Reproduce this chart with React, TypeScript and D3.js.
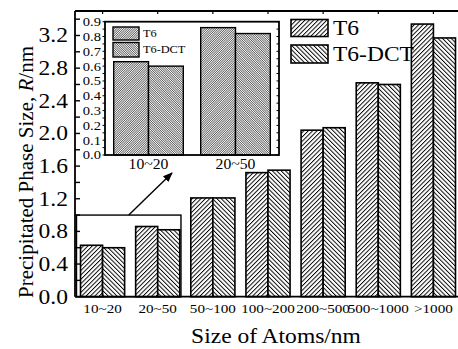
import React from 'react';
import * as d3 from 'd3';

const categories = ['10~20', '20~50', '50~100', '100~200', '200~500', '500~1000', '>1000'];
const t6 = [0.63, 0.86, 1.21, 1.52, 2.04, 2.62, 3.34];
const dct = [0.60, 0.82, 1.21, 1.55, 2.07, 2.60, 3.17];
const yTicks = [0, 0.4, 0.8, 1.2, 1.6, 2.0, 2.4, 2.8, 3.2];
const insetTicks = [0, 0.1, 0.2, 0.3, 0.4, 0.5, 0.6, 0.7, 0.8, 0.9];
const insetCats = categories.slice(0, 2);

const FONT = "'Liberation Serif'";

export default function App() {
  const W = 458, H = 349;
  const left = 75, right = 461, top = 11, bottom = 296.7;

  const x = d3.scaleBand().domain(categories).range([left, right]).paddingInner(0.2).paddingOuter(0.1);
  const y = d3.scaleLinear().domain([0, 3.5]).range([bottom, top]);
  const bw = x.bandwidth() / 2;
  const minor = d3.range(0, 3.41, 0.2);

  // inset
  const iL = 105, iR = 279, iT = 21.7, iB = 155;
  const ix = d3.scaleBand().domain(insetCats).range([iL, iR]).paddingInner(0.2).paddingOuter(0.1);
  const iy = d3.scaleLinear().domain([0, 0.9]).range([iB, iT]);
  const ibw = ix.bandwidth() / 2;
  const iMinor = d3.range(0, 0.91, 0.05);

  const zoomX0 = (x('10~20') as number) - 4;
  const zoomX1 = (x('20~50') as number) + x.bandwidth() + 1.2;

  // horizontal text in the reference is a little wider than the font gives
  const wide = (cx: number) => `translate(${cx},0) scale(1.12,1) translate(${-cx},0)`;

  return (
    <svg width={W} height={H} style={{ position: 'absolute', left: 0, top: 0, fontFamily: FONT }}>
      <defs>
        <pattern id="hT6" patternUnits="userSpaceOnUse" width="3.1" height="3.1" patternTransform="rotate(45)">
          <rect width="3.1" height="3.1" fill="#fff" />
          <line x1="0" y1="0" x2="0" y2="3.1" stroke="#000" strokeWidth="1.9" />
        </pattern>
        <pattern id="hDCT" patternUnits="userSpaceOnUse" width="3.1" height="3.1" patternTransform="rotate(-45)">
          <rect width="3.1" height="3.1" fill="#fff" />
          <line x1="0" y1="0" x2="0" y2="3.1" stroke="#000" strokeWidth="1.9" />
        </pattern>
        <pattern id="iT6" patternUnits="userSpaceOnUse" width="1.6" height="1.6" patternTransform="rotate(45)">
          <rect width="1.6" height="1.6" fill="#fff" />
          <line x1="0" y1="0" x2="0" y2="1.6" stroke="#222" strokeWidth="1.2" />
        </pattern>
        <pattern id="iDCT" patternUnits="userSpaceOnUse" width="1.6" height="1.6" patternTransform="rotate(-45)">
          <rect width="1.6" height="1.6" fill="#fff" />
          <line x1="0" y1="0" x2="0" y2="1.6" stroke="#222" strokeWidth="1.2" />
        </pattern>
        <marker id="arr" viewBox="0 0 10 10" refX="9" refY="5" markerWidth="7" markerHeight="7" orient="auto">
          <path d="M0,1 L10,5 L0,9 Z" fill="#000" />
        </marker>
      </defs>
      <rect width={W} height={H} fill="#fff" />

      {/* main bars */}
      {categories.map((c, i) => (
        <g key={c}>
          <rect x={x(c)} y={y(t6[i])} width={bw} height={bottom - y(t6[i])} fill="url(#hT6)" stroke="#000" strokeWidth={1.6} />
          <rect x={(x(c) as number) + bw} y={y(dct[i])} width={bw} height={bottom - y(dct[i])} fill="url(#hDCT)" stroke="#000" strokeWidth={1.6} />
        </g>
      ))}

      {/* main axes frame */}
      <line x1={left} x2={left} y1={top} y2={bottom} stroke="#000" strokeWidth={1.8} />
      <line x1={left} x2={right} y1={bottom} y2={bottom} stroke="#000" strokeWidth={1.8} />
      <line x1={left} x2={right} y1={top} y2={top} stroke="#000" strokeWidth={1.8} />
      {minor.map(v => (
        <line key={v} x1={left} x2={left + 5} y1={y(v)} y2={y(v)} stroke="#000" strokeWidth={1.4} />
      ))}
      {categories.map(c => {
        const cx = (x(c) as number) + x.bandwidth() / 2;
        return (
          <g key={c}>
            <line x1={cx} x2={cx} y1={bottom} y2={bottom - 3} stroke="#000" strokeWidth={1.2} />
            <line x1={cx} x2={cx} y1={top} y2={top + 3} stroke="#000" strokeWidth={1.2} />
            <text x={cx} y={313} fontSize={13.5} textAnchor="middle" transform={wide(cx)}>{c}</text>
          </g>
        );
      })}
      {yTicks.map(v => (
        <text key={v} x={68} y={y(v) + 7} fontSize={21} textAnchor="end" transform={wide(68)}>{v.toFixed(1)}</text>
      ))}

      <text transform={`translate(33,172) rotate(-90)`} fontSize={21} textAnchor="middle">
        Precipitated Phase Size, <tspan fontStyle="italic">R</tspan>/nm
      </text>
      <text x={276} y={343} fontSize={21} textAnchor="middle" transform={wide(276)}>Size of Atoms/nm</text>

      {/* legend */}
      <rect x={291} y={19.5} width={37} height={17} fill="url(#hT6)" stroke="#000" strokeWidth={1.6} />
      <rect x={291} y={45} width={37} height={18} fill="url(#hDCT)" stroke="#000" strokeWidth={1.6} />
      <text x={333} y={35} fontSize={21} transform={wide(333)}>T6</text>
      <text x={333} y={61} fontSize={21} transform={wide(333)}>T6-DCT</text>

      {/* zoom box and arrow */}
      <rect x={zoomX0} y={y(1.0)} width={zoomX1 - zoomX0} height={bottom - y(1.0)} fill="none" stroke="#000" strokeWidth={1.4} />
      <line x1={(zoomX0 + zoomX1) / 2} y1={y(1.0)} x2={172} y2={173} stroke="#000" strokeWidth={1.4} markerEnd="url(#arr)" />

      {/* inset */}
      <rect x={iL} y={iT} width={iR - iL} height={iB - iT} fill="#fff" />
      {insetCats.map((c, i) => {
        const cx = (ix(c) as number) + ix.bandwidth() / 2;
        return (
          <g key={c}>
            <rect x={ix(c)} y={iy(t6[i])} width={ibw} height={iB - iy(t6[i])} fill="url(#iT6)" stroke="#000" strokeWidth={1.4} />
            <rect x={(ix(c) as number) + ibw} y={iy(dct[i])} width={ibw} height={iB - iy(dct[i])} fill="url(#iDCT)" stroke="#000" strokeWidth={1.4} />
            <text x={cx} y={169} fontSize={14} textAnchor="middle" transform={wide(cx)}>{c}</text>
          </g>
        );
      })}
      <rect x={iL} y={iT} width={iR - iL} height={iB - iT} fill="none" stroke="#000" strokeWidth={1.8} />
      {iMinor.map(v => (
        <g key={v}>
          <line x1={iL} x2={iL - 2.5} y1={iy(v)} y2={iy(v)} stroke="#000" strokeWidth={1} />
          <line x1={iR} x2={iR - 2.5} y1={iy(v)} y2={iy(v)} stroke="#000" strokeWidth={1} />
        </g>
      ))}
      {insetTicks.map(v => (
        <text key={v} x={101} y={iy(v) + 4.5} fontSize={13} textAnchor="end" transform={wide(101)}>{v.toFixed(1)}</text>
      ))}
      <rect x={113} y={27} width={26} height={13} fill="url(#iT6)" stroke="#000" strokeWidth={1.4} />
      <rect x={113} y={42.5} width={26} height={14.5} fill="url(#iDCT)" stroke="#000" strokeWidth={1.4} />
      <text x={143} y={37.5} fontSize={11} transform={wide(143)}>T6</text>
      <text x={143} y={53.5} fontSize={11} transform={wide(143)}>T6-DCT</text>
    </svg>
  );
}
